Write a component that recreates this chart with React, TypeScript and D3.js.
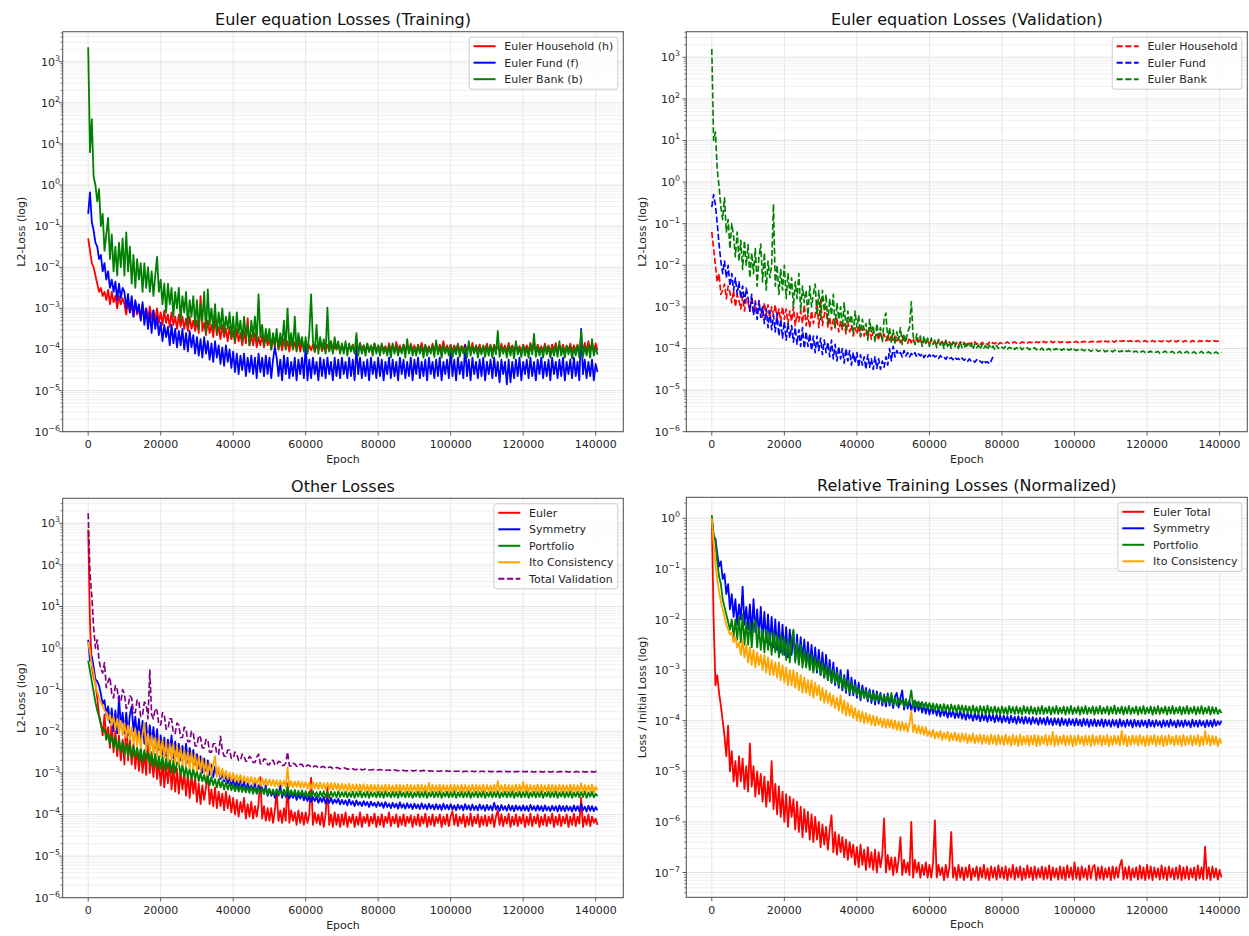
import React from 'react';
import * as d3 from 'd3';

const FONT = '"DejaVu Sans", Verdana, sans-serif';
const W = 1249;
const H = 936;

// All losses are logged every 500 epochs.
const STEP = 500;

const X_DOMAIN: [number, number] = [-7030, 147630];
const X_TICKS = [0, 20000, 40000, 60000, 80000, 100000, 120000, 140000];
const Y_EXP_MAIN = [-6, -5, -4, -3, -2, -1, 0, 1, 2, 3];
const Y_EXP_REL = [-7, -6, -5, -4, -3, -2, -1, 0];

// All loss values below are stored as log10(loss).

// ---------- Euler equation losses, training ----------
const euHouseTrain = [
  -1.3, -1.6, -1.9, -2.0, -2.2, -2.4, -2.6, -2.5, -2.7, -2.6, -2.8, -2.55, -2.9, -2.6, -2.85, -2.7, -3.0, -2.7, -2.9, -2.75,
  -2.9, -3.15, -2.8, -3.1, -2.9, -3.2, -2.85, -3.15, -3.0, -3.25, -2.9, -3.2, -3.0, -3.3, -2.95, -3.25, -3.05, -3.3, -3.0, -3.35,
  -3.1, -3.4, -3.05, -3.35, -3.15, -3.45, -3.1, -3.4, -3.2, -3.5, -3.15, -3.45, -3.2, -3.5, -3.25, -3.55, -3.2, -3.5, -3.3, -3.55,
  -3.3, -3.6, -2.7, -3.55, -3.35, -3.65, -3.3, -3.6, -3.4, -3.7, -3.2, -3.65, -3.45, -3.75, -3.4, -3.7, -3.5, -3.8, -3.45, -3.75,
  -3.55, -3.85, -3.5, -3.8, -3.6, -3.9, -3.55, -3.85, -3.24, -3.9, -3.65, -3.9, -3.6, -3.95, -3.7, -3.9, -3.65, -3.95, -3.7, -3.9,
  -3.75, -4.0, -3.7, -3.95, -3.6, -4.0, -3.78, -4.02, -3.75, -3.98, -3.8, -4.05, -3.75, -4.0, -3.82, -4.02, -3.78, -4.05, -3.8, -4.0,
  -3.85, -4.05, -3.9, -4.02, -3.88, -4.06, -3.9, -4.0, -3.85, -4.04, -3.92, -4.05, -3.88, -4.02, -3.8, -4.06, -3.9, -4.0, -3.88, -4.05,
  -3.9, -4.02, -3.86, -4.05, -3.92, -4.0, -3.88, -4.06, -3.9, -4.03, -3.84, -4.05, -3.9, -4.02, -3.88, -4.06, -3.92, -4.0, -3.86, -4.04,
  -3.9, -4.05, -3.88, -4.02, -3.92, -4.06, -3.85, -4.03, -3.9, -4.05, -3.82, -4.02, -3.9, -4.06, -3.88, -4.0, -3.92, -4.05, -3.86, -4.03,
  -3.9, -4.06, -3.88, -4.02, -3.84, -4.05, -3.9, -4.03, -3.92, -4.06, -3.86, -4.0, -3.9, -4.05, -3.88, -4.02, -3.8, -4.06, -3.9, -4.03,
  -3.88, -4.05, -3.9, -4.02, -3.86, -4.06, -3.92, -4.0, -3.88, -4.05, -3.9, -4.03, -3.84, -4.06, -3.9, -4.02, -3.88, -4.05, -3.92, -4.0,
  -3.86, -4.04, -3.9, -4.06, -3.88, -4.02, -3.92, -4.05, -3.86, -4.03, -3.9, -4.06, -3.84, -4.02, -3.9, -4.05, -3.88, -4.03, -3.92, -4.06,
  -3.88, -4.02, -3.9, -4.05, -3.84, -4.03, -3.9, -4.06, -3.88, -4.02, -3.92, -4.05, -3.86, -4.03, -3.9, -4.06, -3.88, -4.02, -3.84, -4.05,
  -3.9, -4.03, -3.88, -4.06, -3.92, -4.02, -3.86, -4.05, -3.9, -4.03, -3.88, -4.06, -3.9, -4.02, -3.84, -4.05, -3.8, -4.03, -3.86, -4.06,
  -3.85, -4.02,
];

const euFundTrain = [
  -0.7, -0.18, -0.9, -1.1, -1.4, -1.5, -1.8, -1.7, -2.1, -1.9, -2.3, -2.1, -2.5, -2.3, -2.6, -2.35, -2.8, -2.4, -2.75, -2.5,
  -2.6, -3.0, -2.65, -3.1, -2.7, -3.2, -2.8, -3.1, -2.9, -3.3, -2.85, -3.4, -3.0, -3.5, -3.1, -3.6, -3.05, -3.5, -3.2, -3.65,
  -3.35, -3.8, -3.4, -3.7, -3.45, -3.9, -3.4, -3.85, -3.5, -3.95, -3.55, -3.9, -3.5, -4.0, -3.6, -4.05, -3.55, -3.95, -3.65, -4.1,
  -3.7, -4.15, -3.75, -4.2, -3.7, -4.1, -3.8, -4.25, -3.85, -4.3, -3.8, -4.2, -3.9, -4.35, -3.95, -4.4, -3.9, -4.3, -4.0, -4.45,
  -4.05, -4.55, -4.1, -4.6, -4.15, -4.5, -4.1, -4.65, -4.2, -4.55, -4.15, -4.6, -4.2, -4.7, -4.1, -4.55, -4.2, -4.65, -4.15, -4.6,
  -4.2, -4.7, -4.25, -3.95, -4.2, -4.65, -4.25, -4.75, -4.15, -4.6, -4.2, -4.7, -4.3, -4.65, -4.2, -4.75, -4.25, -4.6, -4.2, -4.7,
  -3.9, -4.75, -4.25, -4.7, -4.2, -4.6, -4.3, -4.75, -4.2, -4.65, -4.25, -4.7, -4.2, -4.6, -4.3, -4.75, -4.2, -4.65, -4.25, -4.7,
  -4.2, -4.6, -4.3, -4.7, -4.2, -4.65, -4.25, -4.75, -3.95, -4.6, -4.2, -4.7, -4.3, -4.65, -4.25, -4.75, -4.2, -4.6, -4.3, -4.7,
  -4.2, -4.65, -4.25, -4.75, -4.3, -4.6, -4.2, -4.7, -4.25, -4.65, -4.3, -4.75, -4.2, -4.6, -4.25, -4.7, -4.3, -4.65, -4.2, -4.75,
  -4.25, -4.6, -4.2, -4.7, -4.3, -4.65, -4.25, -4.75, -4.2, -4.6, -4.3, -4.7, -4.25, -4.65, -4.2, -4.75, -4.3, -4.6, -4.25, -4.7,
  -4.0, -4.65, -4.25, -4.75, -4.2, -4.6, -4.3, -4.7, -3.9, -4.65, -4.25, -4.75, -4.2, -4.6, -4.3, -4.7, -4.25, -4.65, -4.2, -4.75,
  -4.3, -4.6, -4.25, -4.7, -4.2, -4.65, -4.3, -4.8, -4.25, -4.6, -4.3, -4.85, -4.25, -4.8, -4.3, -4.7, -4.25, -4.65, -4.2, -4.75,
  -4.3, -4.6, -4.25, -4.7, -4.2, -4.65, -4.3, -4.75, -4.25, -4.6, -4.2, -4.7, -4.3, -4.65, -4.25, -4.75, -4.2, -4.6, -4.3, -4.7,
  -4.25, -4.65, -4.2, -4.75, -4.3, -4.6, -4.25, -4.7, -4.2, -4.65, -4.3, -4.75, -3.5, -4.6, -4.25, -4.7, -4.3, -4.65, -4.25, -4.75,
  -4.35, -4.55,
];

const euBankTrain = [
  3.35, 0.8, 1.6, 0.2, 0.0, -0.4, -0.1, -1.0, -0.7, -1.6, -1.2, -0.8, -1.8, -1.2, -2.1, -1.5, -2.2, -1.4, -2.0, -1.3,
  -2.2, -1.15, -2.1, -1.5, -2.4, -1.7, -2.5, -1.8, -2.3, -1.9, -2.6, -1.9, -2.5, -2.0, -2.6, -2.1, -2.7, -2.2, -1.75, -2.6,
  -2.3, -2.9, -2.4, -3.1, -2.4, -2.9, -2.5, -3.2, -2.6, -3.0, -2.5, -3.3, -2.7, -3.1, -2.6, -3.4, -2.8, -3.2, -2.7, -3.4,
  -2.8, -3.5, -2.9, -3.3, -2.6, -3.6, -2.54, -3.4, -3.0, -3.5, -2.9, -3.6, -3.1, -3.5, -3.0, -3.6, -3.2, -3.5, -3.1, -3.7,
  -3.2, -3.8, -3.1, -3.6, -3.3, -3.8, -3.2, -3.7, -3.4, -3.9, -3.3, -3.7, -3.2, -3.8, -2.66, -3.7, -3.4, -3.9, -3.5, -3.8,
  -3.5, -4.0, -3.6, -3.9, -3.5, -4.0, -3.6, -3.9, -3.3, -4.0, -3.0, -3.9, -3.6, -4.0, -3.2, -4.05, -3.6, -3.9, -3.7, -4.05,
  -3.7, -4.1, -3.6, -2.66, -3.8, -4.05, -3.4, -4.1, -3.7, -4.0, -3.75, -4.1, -2.98, -4.05, -3.8, -4.1, -3.7, -4.0, -3.8, -4.1,
  -3.85, -4.1, -3.8, -4.15, -3.85, -4.05, -3.9, -4.1, -3.6, -4.15, -3.85, -4.1, -3.9, -4.15, -3.85, -4.05, -3.9, -4.15, -3.85, -4.1,
  -3.9, -4.15, -3.85, -4.1, -3.95, -4.15, -3.9, -4.2, -3.85, -4.1, -3.9, -4.15, -3.95, -4.1, -3.88, -4.2, -3.75, -4.1, -3.9, -4.15,
  -3.95, -4.15, -3.9, -4.1, -3.92, -4.2, -3.88, -4.15, -3.95, -4.1, -3.9, -4.18, -3.78, -4.12, -3.92, -4.2, -3.9, -4.1, -3.95, -4.15,
  -3.9, -4.2, -3.95, -4.12, -3.88, -4.18, -3.92, -4.1, -3.95, -4.2, -3.8, -4.15, -3.92, -4.1, -3.9, -4.2, -3.95, -4.12, -3.9, -4.18,
  -3.92, -4.15, -3.88, -4.2, -3.9, -4.12, -3.55, -4.18, -3.92, -4.1, -3.95, -4.2, -3.9, -4.15, -3.92, -4.22, -3.8, -4.12, -3.95, -4.18,
  -3.9, -4.15, -3.95, -4.2, -3.88, -4.12, -3.62, -4.18, -3.92, -4.15, -3.95, -4.2, -3.9, -4.12, -3.92, -4.2, -3.95, -4.15, -3.9, -4.18,
  -3.8, -4.15, -3.95, -4.2, -3.9, -4.12, -3.92, -4.22, -3.95, -4.15, -3.9, -4.2, -3.55, -4.18, -3.92, -4.15, -3.9, -4.2, -3.75, -4.15,
  -3.95, -4.12,
];

// ---------- Euler equation losses, validation ----------
const euHouseVal = [
  -1.2, -1.6, -2.0, -2.4, -2.2, -2.7, -2.6, -2.45, -2.8, -2.5, -2.65, -2.9, -2.6, -3.0, -2.7, -2.85, -3.05, -2.75, -3.1, -2.8,
  -2.9, -3.1, -2.75, -3.15, -2.85, -3.2, -2.9, -3.05, -3.25, -2.9, -3.2, -2.95, -3.3, -3.0, -3.2, -2.95, -3.3, -3.05, -3.35, -3.0,
  -3.3, -3.05, -3.4, -3.1, -3.35, -3.0, -3.45, -3.15, -3.35, -3.1, -3.4, -2.95, -3.45, -3.2, -3.5, -3.1, -3.4, -3.2, -2.9, -3.5,
  -2.8, -3.45, -3.2, -3.0, -3.5, -3.25, -3.55, -3.3, -3.5, -3.25, -3.6, -3.35, -3.55, -3.4, -3.65, -3.35, -3.6, -3.45, -3.7, -3.5,
  -3.65, -3.45, -3.72, -3.5, -3.7, -3.55, -3.75, -3.5, -3.78, -3.6, -3.75, -3.62, -3.8, -3.6, -3.78, -3.65, -3.82, -3.66, -3.8, -3.7,
  -3.84, -3.7, -3.82, -3.72, -3.86, -3.7, -3.85, -3.75, -3.88, -3.74, -3.86, -3.76, -3.9, -3.77, -3.87, -3.78, -3.9, -3.79, -3.88, -3.8,
  -3.91, -3.8, -3.89, -3.82, -3.92, -3.81, -3.9, -3.83, -3.92, -3.82, -3.9, -3.84, -3.91, -3.83, -3.9, -3.85, -3.92, -3.84, -3.9, -3.85,
  -3.91, -3.85, -3.89, -3.86, -3.91, -3.84, -3.9, -3.86, -3.9, -3.85, -3.89, -3.86, -3.91, -3.85, -3.9, -3.86, -3.89, -3.84, -3.9, -3.86,
  -3.88, -3.85, -3.87, -3.84, -3.88, -3.85, -3.86, -3.84, -3.87, -3.85, -3.88, -3.84, -3.86, -3.85, -3.87, -3.84, -3.86, -3.85, -3.87, -3.84,
  -3.86, -3.84, -3.87, -3.83, -3.86, -3.84, -3.85, -3.83, -3.86, -3.84, -3.85, -3.83, -3.86, -3.84, -3.85, -3.83, -3.86, -3.84, -3.85, -3.83,
  -3.85, -3.83, -3.86, -3.82, -3.85, -3.83, -3.84, -3.82, -3.85, -3.83, -3.84, -3.82, -3.85, -3.83, -3.84, -3.82, -3.85, -3.82, -3.84, -3.83,
  -3.84, -3.82, -3.85, -3.81, -3.84, -3.82, -3.83, -3.81, -3.84, -3.82, -3.83, -3.81, -3.84, -3.82, -3.83, -3.81, -3.84, -3.82, -3.83, -3.81,
  -3.84, -3.82, -3.83, -3.81, -3.84, -3.81, -3.83, -3.82, -3.84, -3.81, -3.83, -3.82, -3.84, -3.81, -3.83, -3.82, -3.84, -3.81, -3.83, -3.82,
  -3.84, -3.81, -3.83, -3.82, -3.84, -3.81, -3.83, -3.82, -3.84, -3.81, -3.83, -3.82, -3.84, -3.81, -3.83, -3.82, -3.84, -3.81, -3.83, -3.82,
  -3.83, -3.82,
];

const euFundVal = [
  -0.6, -0.3, -0.55, -1.0, -1.5, -1.9, -2.2, -1.9, -2.3, -2.0, -2.5, -2.2, -2.6, -2.3, -2.7, -2.4, -2.8, -2.5, -2.9, -2.55,
  -2.8, -3.1, -2.7, -3.2, -2.9, -3.3, -2.85, -3.25, -3.0, -3.4, -3.05, -3.5, -3.1, -3.55, -3.2, -3.6, -3.15, -3.7, -3.3, -3.75,
  -3.35, -3.8, -3.4, -3.75, -3.45, -3.85, -3.5, -3.9, -3.55, -3.95, -3.5, -4.0, -3.6, -3.95, -3.65, -4.05, -3.7, -4.1, -3.7, -4.05,
  -3.75, -4.15, -3.8, -4.1, -3.85, -4.2, -3.8, -4.25, -3.9, -4.3, -3.95, -4.25, -4.0, -4.35, -4.0, -4.3, -4.05, -4.4, -4.1, -4.35,
  -4.1, -4.45, -4.15, -4.4, -4.2, -4.5, -4.15, -4.45, -4.25, -4.5, -4.2, -4.48, -4.25, -4.5, -4.3, -4.45, -4.2, -4.4, -4.0, -4.3,
  -3.95, -4.2, -4.05, -4.15, -4.1, -4.2, -4.05, -4.18, -4.1, -4.2, -4.12, -4.17, -4.1, -4.2, -4.13, -4.18, -4.12, -4.22, -4.14, -4.2,
  -4.15, -4.22, -4.16, -4.2, -4.18, -4.24, -4.17, -4.22, -4.2, -4.26, -4.19, -4.24, -4.22, -4.27, -4.21, -4.26, -4.24, -4.29, -4.23, -4.28,
  -4.26, -4.31, -4.25, -4.3, -4.28, -4.33, -4.27, -4.32, -4.3, -4.35, -4.28, -4.34, -4.32, -4.37, -4.3, -4.2,
];

const euBankVal = [
  3.2, 1.0, 1.2, 0.3, -0.1, -0.6, -0.9, -0.38, -1.2, -0.9, -1.6, -1.0, -1.3, -1.8, -1.2, -1.9, -1.4, -2.1, -1.41, -2.0,
  -1.5, -2.3, -1.7, -2.2, -1.6, -2.5, -1.8, -1.49, -2.4, -1.7, -2.6, -1.9, -2.3, -2.0, -0.53, -2.5, -2.0, -2.7, -2.1, -2.6,
  -2.0, -2.8, -2.2, -2.7, -2.3, -3.0, -2.4, -2.8, -2.2, -3.1, -2.5, -2.9, -2.6, -3.2, -2.5, -3.0, -2.7, -2.45, -3.2, -2.6,
  -3.3, -2.6, -3.1, -2.7, -3.4, -2.8, -3.2, -2.7, -3.5, -2.9, -3.3, -3.0, -3.5, -2.9, -3.6, -3.1, -3.4, -3.2, -3.65, -3.1,
  -3.5, -3.2, -3.7, -3.3, -3.55, -3.4, -3.8, -3.3, -3.6, -3.45, -3.85, -3.4, -3.7, -3.5, -3.85, -3.3, -3.15, -3.8, -3.5, -3.85,
  -3.55, -3.9, -3.6, -3.8, -3.5, -3.9, -3.65, -3.85, -3.6, -3.5, -2.88, -3.7, -3.9, -3.65, -3.85, -3.7, -3.95, -3.7, -3.9, -3.75,
  -3.95, -3.75, -3.9, -3.8, -3.98, -3.78, -3.92, -3.82, -4.0, -3.8, -3.95, -3.85, -4.0, -3.84, -3.96, -3.86, -4.0, -3.85, -3.98, -3.88,
  -4.0, -3.88, -3.97, -3.9, -4.02, -3.89, -3.98, -3.92, -4.02, -3.9, -3.99, -3.93, -4.03, -3.92, -4.0, -3.94, -4.02, -3.93, -4.0, -3.95,
  -3.97, -4.0, -3.95, -4.01, -3.97, -4.0, -3.96, -4.02, -3.98, -4.01, -3.97, -4.03, -3.99, -4.01, -3.98, -4.03, -4.0, -4.02, -3.98, -4.03,
  -4.0, -4.03, -3.99, -4.04, -4.01, -4.03, -4.0, -4.05, -4.01, -4.03, -4.0, -4.05, -4.02, -4.04, -4.01, -4.05, -4.02, -4.04, -4.01, -4.06,
  -4.02, -4.05, -4.03, -4.06, -4.02, -4.05, -4.04, -4.06, -4.03, -4.07, -4.04, -4.05, -4.03, -4.07, -4.05, -4.06, -4.04, -4.08, -4.05, -4.06,
  -4.05, -4.08, -4.04, -4.07, -4.06, -4.08, -4.05, -4.09, -4.06, -4.07, -4.05, -4.09, -4.07, -4.08, -4.06, -4.1, -4.07, -4.08, -4.06, -4.1,
  -4.07, -4.09, -4.06, -4.1, -4.08, -4.09, -4.07, -4.11, -4.08, -4.09, -4.06, -4.1, -4.08, -4.09, -4.07, -4.11, -4.08, -4.1, -4.07, -4.11,
  -4.08, -4.1, -4.07, -4.11, -4.09, -4.1, -4.08, -4.12, -4.09, -4.1, -4.07, -4.11, -4.09, -4.1, -4.08, -4.12, -4.09, -4.11, -4.08, -4.12,
  -4.09, -4.1,
];

// ---------- Other losses (absolute) ----------
const eulerLoss = [
  2.85, 0.6, -0.45, -0.7, -0.85, -1.2, -1.6, -1.8, -2.1, -1.6, -2.2, -1.9, -2.4, -1.75, -2.5, -2.0, -2.6, -2.1, -2.7, -2.2,
  -2.8, -1.65, -2.7, -2.2, -2.8, -2.3, -2.9, -2.4, -2.95, -2.45, -3.0, -2.5, -3.05, -2.05, -3.0, -2.6, -3.1, -2.55, -3.15, -2.7,
  -3.3, -2.75, -3.35, -2.8, -3.25, -2.7, -3.4, -2.85, -3.45, -2.9, -3.5, -2.95, -3.4, -3.0, -3.55, -3.0, -3.6, -3.05, -3.5, -3.1,
  -3.7, -3.25, -3.75, -3.3, -3.65, -3.35, -3.0, -3.75, -3.4, -3.8, -3.35, -3.85, -3.45, -3.8, -3.5, -3.9, -3.45, -3.85, -3.55, -3.95,
  -3.6, -4.0, -3.65, -4.05, -3.7, -3.95, -3.6, -4.1, -3.75, -4.05, -3.7, -4.1, -3.8, -4.05, -3.75, -3.1, -4.1, -3.8, -4.15, -3.85,
  -4.15, -3.85, -4.2, -3.9, -3.45, -4.15, -3.9, -4.2, -3.85, -4.15, -3.25, -4.2, -3.9, -4.15, -3.95, -4.25, -3.9, -4.2, -3.95, -4.25,
  -3.95, -4.2, -4.0, -3.12, -4.25, -3.95, -4.2, -4.0, -4.25, -3.95, -4.3, -4.0, -3.35, -4.25, -4.0, -4.3, -3.95, -4.25, -4.0, -4.3,
  -4.0, -4.25, -3.95, -4.3, -4.05, -4.2, -4.0, -4.3, -4.05, -4.25, -3.95, -4.3, -4.05, -4.2, -4.0, -4.28, -4.05, -4.22, -3.98, -4.3,
  -4.05, -4.25, -4.0, -4.3, -4.05, -4.2, -3.95, -4.28, -4.05, -4.22, -4.0, -4.3, -4.05, -4.25, -4.0, -4.28, -4.05, -4.2, -4.02, -4.3,
  -4.05, -4.25, -4.0, -4.28, -4.05, -4.22, -3.98, -4.3, -4.05, -4.25, -4.0, -4.28, -4.06, -4.2, -4.0, -4.3, -4.05, -4.24, -4.0, -4.28,
  -4.05, -3.92, -4.25, -4.0, -4.28, -4.05, -4.22, -4.0, -4.3, -4.05, -4.25, -3.98, -4.28, -4.05, -4.22, -4.0, -4.3, -4.05, -4.25, -4.02,
  -4.28, -4.05, -4.22, -4.0, -4.3, -4.05, -3.9, -4.25, -4.0, -4.28, -4.05, -4.22, -3.98, -4.3, -4.05, -4.25, -4.0, -4.28, -4.05, -4.22,
  -4.0, -4.3, -4.05, -4.25, -3.98, -4.28, -4.05, -4.22, -4.0, -4.3, -4.05, -4.25, -4.0, -4.28, -4.05, -4.22, -3.98, -4.3, -4.05, -4.25,
  -4.0, -4.28, -4.05, -4.22, -4.0, -4.3, -4.05, -4.25, -3.98, -4.28, -4.05, -4.22, -3.6, -4.3, -4.05, -4.25, -4.0, -4.28, -4.05, -4.2,
  -4.1, -4.25,
];

const symmetryLoss = [
  0.2, -0.3, -0.2, -0.45, -0.75, -0.8, -0.9, -1.1, -1.35, -1.25, -1.6, -1.4, -1.8, -1.45, -2.0, -1.5, -2.05, -1.15, -1.9, -1.55,
  -2.05, -1.55, -2.1, -1.6, -1.4, -2.0, -1.65, -2.15, -1.7, -2.2, -1.75, -2.3, -1.8, -2.35, -1.85, -2.3, -1.9, -2.4, -1.95, -2.45,
  -2.1, -2.55, -2.15, -2.6, -2.2, -2.5, -2.1, -2.65, -2.25, -2.6, -2.3, -2.7, -2.35, -2.65, -2.3, -2.75, -2.4, -2.7, -2.45, -2.8,
  -2.55, -2.9, -2.6, -3.0, -2.65, -2.95, -2.7, -3.05, -2.8, -3.1, -2.85, -3.05, -2.9, -3.15, -3.0, -3.2, -3.05, -3.25, -3.1, -3.3,
  -3.15, -3.35, -3.2, -3.4, -3.1, -3.35, -3.2, -3.45, -3.25, -3.4, -3.3, -3.45, -3.25, -3.5, -3.3, -3.45, -3.35, -3.5, -3.3, -3.55,
  -3.4, -3.55, -3.45, -3.6, -3.42, -3.55, -3.3, -3.6, -3.45, -3.58, -3.48, -3.62, -3.5, -3.6, -3.48, -3.65, -3.52, -3.62, -3.5, -3.66,
  -3.55, -3.68, -3.56, -3.7, -3.58, -3.68, -3.57, -3.72, -3.6, -3.7, -3.58, -3.74, -3.62, -3.72, -3.6, -3.74, -3.64, -3.72, -3.62, -3.76,
  -3.65, -3.75, -3.66, -3.78, -3.64, -3.76, -3.68, -3.8, -3.66, -3.77, -3.7, -3.8, -3.68, -3.78, -3.7, -3.82, -3.69, -3.79, -3.72, -3.82,
  -3.7, -3.8, -3.72, -3.84, -3.7, -3.82, -3.74, -3.85, -3.72, -3.83, -3.74, -3.86, -3.71, -3.84, -3.75, -3.86, -3.73, -3.84, -3.75, -3.87,
  -3.74, -3.85, -3.76, -3.87, -3.73, -3.86, -3.76, -3.88, -3.74, -3.86, -3.77, -3.88, -3.75, -3.87, -3.77, -3.89, -3.74, -3.87, -3.77, -3.88,
  -3.75, -3.88, -3.78, -3.9, -3.76, -3.87, -3.78, -3.9, -3.75, -3.88, -3.78, -3.9, -3.76, -3.89, -3.79, -3.9, -3.76, -3.88, -3.78, -3.91,
  -3.77, -3.89, -3.79, -3.9, -3.72, -3.88, -3.79, -3.91, -3.77, -3.89, -3.8, -3.91, -3.77, -3.9, -3.79, -3.92, -3.78, -3.89, -3.8, -3.91,
  -3.78, -3.9, -3.8, -3.92, -3.77, -3.89, -3.8, -3.91, -3.78, -3.9, -3.8, -3.92, -3.78, -3.9, -3.81, -3.92, -3.79, -3.9, -3.8, -3.93,
  -3.78, -3.91, -3.8, -3.92, -3.79, -3.9, -3.81, -3.93, -3.78, -3.91, -3.8, -3.92, -3.75, -3.9, -3.81, -3.93, -3.79, -3.91, -3.8, -3.92,
  -3.82, -3.9,
];

const portfolioLoss = [
  -0.3, -0.55, -0.8, -1.05, -1.3, -1.5, -1.65, -1.85, -2.0, -1.95, -2.2, -2.05, -2.3, -2.1, -2.4, -2.15, -2.45, -2.2, -2.5, -2.25,
  -2.55, -2.3, -2.6, -2.3, -2.65, -2.35, -2.6, -2.4, -2.7, -2.4, -2.75, -2.45, -2.7, -2.5, -2.8, -2.5, -2.85, -2.55, -2.9, -2.6,
  -2.9, -2.6, -2.95, -2.65, -2.9, -2.7, -3.0, -2.7, -3.0, -2.75, -2.78, -3.05, -2.8, -3.1, -2.85, -3.1, -2.9, -3.15, -2.9, -3.15,
  -2.95, -3.2, -3.0, -3.2, -3.05, -3.25, -3.05, -3.3, -3.1, -3.3, -3.15, -3.35, -3.15, -3.35, -3.2, -3.4, -3.22, -3.4, -3.25, -3.42,
  -3.28, -3.44, -3.3, -3.45, -3.31, -3.46, -3.32, -3.47, -3.34, -3.48, -3.33, -3.5, -3.35, -3.49, -3.36, -3.5, -3.37, -3.51, -3.36, -3.52,
  -3.38, -3.52, -3.4, -3.53, -3.39, -3.54, -3.41, -3.53, -3.4, -3.55, -3.3, -3.54, -3.42, -3.55, -3.41, -3.56, -3.43, -3.55, -3.42, -3.57,
  -3.44, -3.57, -3.45, -3.58, -3.44, -3.56, -3.46, -3.59, -3.45, -3.57, -3.44, -3.58, -3.46, -3.6, -3.45, -3.57, -3.46, -3.59, -3.44, -3.58,
  -3.46, -3.57, -3.45, -3.59, -3.47, -3.58, -3.45, -3.6, -3.46, -3.57, -3.44, -3.59, -3.47, -3.58, -3.45, -3.6, -3.46, -3.57, -3.47, -3.59,
  -3.45, -3.58, -3.46, -3.6, -3.44, -3.57, -3.47, -3.59, -3.45, -3.58, -3.46, -3.6, -3.44, -3.57, -3.47, -3.59, -3.45, -3.58, -3.46, -3.6,
  -3.47, -3.57, -3.45, -3.59, -3.46, -3.58, -3.44, -3.6, -3.47, -3.57, -3.45, -3.59, -3.46, -3.58, -3.44, -3.6, -3.47, -3.57, -3.45, -3.59,
  -3.46, -3.58, -3.44, -3.6, -3.47, -3.57, -3.45, -3.59, -3.46, -3.58, -3.44, -3.6, -3.47, -3.57, -3.45, -3.59, -3.46, -3.58, -3.44, -3.6,
  -3.47, -3.57, -3.45, -3.59, -3.46, -3.58, -3.44, -3.6, -3.47, -3.57, -3.45, -3.59, -3.46, -3.58, -3.44, -3.6, -3.47, -3.57, -3.45, -3.59,
  -3.46, -3.58, -3.44, -3.6, -3.47, -3.57, -3.45, -3.59, -3.46, -3.58, -3.44, -3.6, -3.47, -3.57, -3.45, -3.59, -3.46, -3.58, -3.44, -3.6,
  -3.47, -3.57, -3.45, -3.59, -3.46, -3.58, -3.44, -3.6, -3.47, -3.57, -3.45, -3.59, -3.46, -3.58, -3.44, -3.6, -3.47, -3.57, -3.45, -3.59,
  -3.5, -3.56,
];

const itoLoss = [
  0.15, -0.1, -0.4, -0.6, -0.9, -1.05, -1.2, -1.3, -1.4, -1.5, -1.55, -1.75, -1.6, -1.85, -1.65, -1.95, -1.7, -2.05, -1.75, -2.1,
  -1.8, -2.15, -1.85, -2.2, -1.9, -2.3, -1.95, -2.35, -2.0, -2.4, -2.05, -1.8, -2.45, -2.05, -2.5, -2.1, -2.55, -2.15, -2.6, -2.15,
  -2.6, -2.2, -2.65, -2.25, -2.7, -2.3, -2.7, -2.3, -2.75, -2.35, -2.8, -2.4, -2.8, -2.45, -2.85, -2.5, -2.9, -2.5, -2.9, -2.55,
  -2.95, -2.6, -2.95, -2.65, -3.0, -2.7, -3.05, -2.75, -3.05, -2.8, -2.6, -3.1, -2.85, -3.1, -2.9, -3.15, -2.95, -3.15, -3.0, -3.2,
  -3.0, -3.2, -3.05, -3.22, -3.05, -3.25, -3.08, -3.24, -3.1, -3.26, -3.1, -3.28, -3.12, -3.27, -3.12, -3.3, -3.14, -3.29, -3.15, -3.3,
  -3.16, -3.31, -3.17, -3.32, -3.18, -3.33, -3.18, -3.32, -3.19, -3.34, -2.87, -3.33, -3.2, -3.35, -3.21, -3.34, -3.2, -3.36, -3.22, -3.35,
  -3.22, -3.37, -3.23, -3.38, -3.22, -3.37, -3.24, -3.39, -3.23, -3.38, -3.25, -3.4, -3.24, -3.39, -3.25, -3.41, -3.24, -3.4, -3.26, -3.42,
  -3.26, -3.42, -3.27, -3.43, -3.26, -3.44, -3.28, -3.43, -3.27, -3.45, -3.28, -3.44, -3.27, -3.45, -3.29, -3.46, -3.28, -3.44, -3.29, -3.46,
  -3.28, -3.46, -3.3, -3.45, -3.28, -3.47, -3.29, -3.45, -3.3, -3.46, -3.28, -3.47, -3.29, -3.45, -3.3, -3.46, -3.28, -3.47, -3.29, -3.45,
  -3.3, -3.46, -3.28, -3.47, -3.29, -3.45, -3.3, -3.46, -3.24, -3.47, -3.29, -3.45, -3.3, -3.46, -3.28, -3.47, -3.29, -3.45, -3.3, -3.46,
  -3.28, -3.47, -3.29, -3.45, -3.3, -3.46, -3.28, -3.47, -3.29, -3.45, -3.3, -3.46, -3.28, -3.47, -3.29, -3.45, -3.3, -3.46, -3.28, -3.47,
  -3.29, -3.45, -3.3, -3.46, -3.28, -3.47, -3.2, -3.45, -3.3, -3.46, -3.28, -3.47, -3.29, -3.45, -3.3, -3.46, -3.28, -3.47, -3.29, -3.45,
  -3.22, -3.46, -3.28, -3.47, -3.29, -3.45, -3.3, -3.46, -3.28, -3.47, -3.29, -3.45, -3.3, -3.46, -3.28, -3.47, -3.29, -3.45, -3.3, -3.46,
  -3.28, -3.47, -3.29, -3.45, -3.3, -3.46, -3.28, -3.47, -3.29, -3.45, -3.3, -3.46, -3.25, -3.47, -3.29, -3.45, -3.3, -3.46, -3.28, -3.47,
  -3.33, -3.42,
];

const totalVal = [
  3.24, 1.8, 1.25, 0.5, 0.0, 0.2, -0.3, -0.5, -0.6, -0.35, -0.95, -0.8, -0.7, -1.1, -1.2, -0.9, -1.0, -1.3, -1.3, -1.0,
  -1.1, -1.45, -1.4, -1.15, -1.2, -1.55, -1.55, -1.25, -1.3, -1.65, -1.6, -1.3, -1.35, -1.7, -0.53, -1.6, -1.7, -1.45, -1.5, -1.85,
  -1.85, -1.55, -1.6, -1.95, -1.95, -1.7, -1.7, -2.05, -2.05, -1.8, -1.85, -2.15, -2.15, -1.9, -1.95, -2.25, -2.25, -2.0, -2.05, -2.35,
  -2.35, -2.1, -2.15, -2.4, -2.4, -2.2, -2.2, -2.5, -2.5, -2.3, -2.3, -2.55, -2.55, -2.12, -2.45, -2.6, -2.6, -2.45, -2.45, -2.65,
  -2.65, -2.5, -2.55, -2.7, -2.7, -2.55, -2.6, -2.72, -2.72, -2.6, -2.65, -2.75, -2.75, -2.62, -2.55, -2.78, -2.78, -2.66, -2.68, -2.8,
  -2.8, -2.7, -2.7, -2.8, -2.81, -2.72, -2.74, -2.82, -2.82, -2.76, -2.5, -2.83, -2.83, -2.77, -2.78, -2.84, -2.85, -2.79, -2.8, -2.86,
  -2.86, -2.81, -2.82, -2.87, -2.87, -2.83, -2.84, -2.88, -2.88, -2.85, -2.85, -2.89, -2.89, -2.86, -2.86, -2.9, -2.9, -2.87, -2.88, -2.9,
  -2.9, -2.88, -2.89, -2.91, -2.91, -2.89, -2.9, -2.92, -2.92, -2.9, -2.9, -2.93, -2.92, -2.91, -2.91, -2.93, -2.93, -2.92, -2.92, -2.94,
  -2.93, -2.92, -2.93, -2.94, -2.94, -2.93, -2.93, -2.94, -2.95, -2.93, -2.94, -2.95, -2.94, -2.94, -2.94, -2.95, -2.95, -2.94, -2.94, -2.95,
  -2.95, -2.94, -2.95, -2.95, -2.95, -2.94, -2.95, -2.96, -2.95, -2.95, -2.96, -2.95, -2.95, -2.96, -2.96, -2.95, -2.96, -2.96, -2.95, -2.96,
  -2.96, -2.95, -2.96, -2.96, -2.96, -2.95, -2.96, -2.97, -2.96, -2.96, -2.97, -2.96, -2.96, -2.97, -2.96, -2.96, -2.97, -2.96, -2.96, -2.97,
  -2.97, -2.96, -2.97, -2.97, -2.96, -2.97, -2.97, -2.96, -2.97, -2.97, -2.96, -2.97, -2.97, -2.97, -2.96, -2.97, -2.97, -2.97, -2.96, -2.97,
  -2.97, -2.97, -2.97, -2.96, -2.97, -2.97, -2.98, -2.97, -2.97, -2.97, -2.97, -2.98, -2.97, -2.97, -2.97, -2.98, -2.97, -2.97, -2.97, -2.98,
  -2.97, -2.97, -2.98, -2.97, -2.97, -2.98, -2.97, -2.97, -2.98, -2.97, -2.97, -2.98, -2.97, -2.97, -2.98, -2.97, -2.98, -2.97, -2.97, -2.98,
  -2.97, -2.97,
];

// ---------- Relative training losses (loss / initial loss) ----------
const relEuler = [
  0.0, -2.0, -3.3, -3.1, -3.45, -3.7, -4.0, -4.3, -4.7, -4.1, -5.0, -4.6, -5.2, -4.8, -5.3, -4.7, -5.2, -4.75, -5.35, -4.9,
  -5.4, -4.45, -5.3, -4.9, -5.5, -5.0, -5.45, -5.05, -5.6, -5.1, -5.7, -5.2, -5.6, -4.8, -5.75, -5.25, -5.85, -5.3, -5.9, -5.4,
  -6.0, -5.45, -6.1, -5.5, -5.9, -5.55, -6.15, -5.6, -6.2, -5.7, -6.3, -5.75, -6.2, -5.8, -6.35, -5.85, -6.4, -5.9, -6.35, -6.0,
  -6.5, -6.05, -6.45, -6.1, -6.55, -6.15, -5.87, -6.6, -6.2, -6.65, -6.25, -6.6, -6.3, -6.7, -6.35, -6.75, -6.4, -6.7, -6.45, -6.85,
  -6.5, -6.9, -6.45, -6.85, -6.55, -6.95, -6.5, -6.9, -6.6, -6.95, -6.55, -7.0, -6.6, -6.9, -6.65, -5.93, -7.0, -6.65, -6.95, -6.7,
  -7.05, -6.7, -7.0, -6.75, -6.3, -7.05, -6.75, -7.0, -6.8, -7.05, -6.0, -7.1, -6.75, -7.0, -6.8, -7.1, -6.85, -7.05, -6.8, -7.1,
  -6.85, -7.1, -6.8, -5.97, -7.1, -6.85, -7.05, -6.9, -7.15, -6.85, -7.1, -6.9, -6.2, -7.1, -6.9, -7.15, -6.85, -7.1, -6.9, -7.15,
  -6.9, -7.1, -6.85, -7.15, -6.92, -7.08, -6.88, -7.15, -6.9, -7.1, -6.85, -7.12, -6.92, -7.15, -6.88, -7.1, -6.9, -7.14, -6.86, -7.1,
  -6.9, -7.12, -6.88, -7.15, -6.92, -7.1, -6.85, -7.14, -6.9, -7.1, -6.88, -7.15, -6.92, -7.12, -6.86, -7.1, -6.9, -7.15, -6.88, -7.12,
  -6.92, -7.1, -6.88, -7.14, -6.9, -7.12, -6.86, -7.15, -6.9, -7.1, -6.92, -7.14, -6.88, -7.12, -6.9, -7.15, -6.86, -7.1, -6.9, -7.14,
  -6.8, -7.12, -6.9, -7.15, -6.88, -7.1, -6.92, -7.14, -6.86, -7.12, -6.9, -6.85, -7.15, -6.9, -7.12, -6.88, -7.14, -6.92, -7.1, -6.9,
  -7.15, -6.88, -7.12, -6.9, -7.1, -6.86, -6.75, -7.14, -6.9, -7.12, -6.88, -7.15, -6.92, -7.1, -6.9, -7.14, -6.86, -7.12, -6.9, -7.15,
  -6.85, -7.12, -6.88, -7.15, -6.9, -7.1, -6.92, -7.14, -6.86, -7.12, -6.9, -7.15, -6.88, -7.1, -6.92, -7.14, -6.9, -7.12, -6.86, -7.15,
  -6.9, -7.12, -6.88, -7.14, -6.92, -7.1, -6.9, -7.15, -6.86, -7.12, -6.9, -7.14, -6.49, -7.12, -6.9, -7.15, -6.88, -7.1, -6.92, -7.14,
  -6.95, -7.1,
];

const relSymmetry = [
  0.0, -0.36, -0.4, -0.7, -0.95, -0.85, -1.2, -1.1, -1.5, -1.3, -1.8, -1.5, -1.95, -1.6, -2.1, -1.7, -2.0, -1.35, -2.1, -1.75,
  -2.2, -1.7, -2.3, -1.6, -2.25, -1.8, -2.35, -1.75, -2.4, -1.85, -2.45, -1.9, -2.5, -1.95, -2.55, -2.0, -2.6, -2.05, -2.65, -2.1,
  -2.7, -2.15, -2.75, -2.2, -2.7, -2.25, -2.8, -2.3, -2.85, -2.35, -2.8, -2.4, -2.9, -2.45, -2.95, -2.5, -3.0, -2.55, -3.05, -2.6,
  -3.1, -2.65, -3.15, -2.7, -3.2, -2.8, -3.25, -2.85, -3.3, -2.95, -3.35, -3.0, -3.4, -3.1, -3.45, -3.0, -3.5, -3.15, -3.5, -3.2,
  -3.55, -3.25, -3.6, -3.3, -3.55, -3.35, -3.62, -3.38, -3.65, -3.4, -3.68, -3.42, -3.66, -3.45, -3.7, -3.48, -3.72, -3.46, -3.7, -3.5,
  -3.75, -3.52, -3.45, -3.74, -3.55, -3.4, -3.78, -3.58, -3.76, -3.6, -3.8, -3.62, -3.82, -3.64, -3.8, -3.66, -3.84, -3.68, -3.86, -3.7,
  -3.88, -3.72, -3.86, -3.74, -3.9, -3.75, -3.92, -3.76, -3.9, -3.78, -3.94, -3.8, -3.92, -3.79, -3.95, -3.82, -3.94, -3.8, -3.96, -3.83,
  -3.98, -3.84, -3.96, -3.86, -4.0, -3.85, -3.98, -3.87, -4.01, -3.86, -3.99, -3.88, -4.02, -3.87, -4.0, -3.89, -4.03, -3.88, -4.01, -3.9,
  -4.04, -3.9, -4.02, -3.91, -4.05, -3.9, -4.03, -3.92, -4.06, -3.91, -4.04, -3.93, -4.06, -3.92, -4.05, -3.94, -4.07, -3.93, -4.05, -3.95,
  -4.08, -3.94, -4.06, -3.95, -4.08, -3.93, -4.07, -3.96, -4.09, -3.95, -4.07, -3.96, -4.1, -3.95, -4.08, -3.97, -4.1, -3.96, -4.08, -3.97,
  -4.1, -3.96, -4.09, -3.98, -4.11, -3.96, -4.09, -3.97, -4.12, -3.98, -4.1, -3.97, -4.11, -3.99, -4.1, -3.97, -4.12, -3.98, -4.1, -3.99,
  -4.12, -3.98, -4.1, -3.99, -4.13, -3.97, -4.11, -4.0, -4.12, -3.98, -4.1, -3.99, -4.13, -3.98, -4.11, -4.0, -4.12, -3.99, -4.1, -4.0,
  -4.13, -3.98, -4.11, -4.0, -4.12, -3.99, -4.1, -4.01, -4.13, -3.99, -4.11, -4.0, -4.12, -3.98, -4.1, -4.01, -4.13, -3.99, -4.11, -4.0,
  -4.12, -3.99, -4.1, -4.01, -4.13, -3.98, -4.11, -4.0, -4.12, -3.99, -4.1, -4.01, -4.13, -3.99, -4.11, -4.0, -4.12, -3.98, -4.1, -4.01,
  -4.08, -4.0,
];

const relPortfolio = [
  0.06, -0.33, -0.45, -0.85, -1.15, -1.3, -1.6, -1.75, -1.9, -2.05, -2.2, -2.0, -2.35, -2.0, -2.4, -1.95, -2.45, -1.9, -2.5, -2.05,
  -2.5, -2.05, -2.55, -2.1, -2.0, -2.55, -2.15, -2.6, -2.2, -2.65, -2.2, -2.6, -2.25, -2.7, -2.25, -2.65, -2.3, -2.75, -2.3, -2.7,
  -2.35, -2.8, -2.4, -2.85, -2.4, -2.2, -2.85, -2.45, -2.9, -2.5, -2.95, -2.6, -2.95, -2.65, -3.0, -2.7, -3.05, -2.75, -3.0, -2.8,
  -3.1, -2.85, -3.15, -2.9, -3.2, -2.95, -3.25, -3.0, -3.25, -3.05, -3.3, -3.1, -3.35, -3.15, -3.4, -3.2, -3.45, -3.25, -3.45, -3.3,
  -3.5, -3.35, -3.55, -3.38, -3.55, -3.4, -3.58, -3.42, -3.6, -3.45, -3.62, -3.46, -3.6, -3.48, -3.65, -3.5, -3.64, -3.5, -3.66, -3.45,
  -3.68, -3.55, -3.7, -3.56, -3.68, -3.58, -3.72, -3.57, -3.7, -3.6, -3.4, -3.72, -3.6, -3.74, -3.62, -3.75, -3.63, -3.74, -3.64, -3.76,
  -3.65, -3.78, -3.66, -3.8, -3.67, -3.78, -3.68, -3.82, -3.67, -3.8, -3.69, -3.83, -3.68, -3.81, -3.7, -3.84, -3.69, -3.82, -3.7, -3.85,
  -3.71, -3.84, -3.72, -3.86, -3.7, -3.85, -3.73, -3.87, -3.71, -3.85, -3.72, -3.88, -3.7, -3.86, -3.73, -3.87, -3.72, -3.85, -3.74, -3.88,
  -3.72, -3.86, -3.74, -3.88, -3.71, -3.85, -3.73, -3.87, -3.72, -3.86, -3.74, -3.88, -3.71, -3.85, -3.73, -3.87, -3.72, -3.86, -3.74, -3.88,
  -3.73, -3.86, -3.71, -3.87, -3.74, -3.85, -3.72, -3.88, -3.73, -3.86, -3.71, -3.87, -3.74, -3.85, -3.72, -3.88, -3.73, -3.86, -3.71, -3.87,
  -3.74, -3.85, -3.72, -3.88, -3.73, -3.86, -3.71, -3.87, -3.74, -3.85, -3.72, -3.88, -3.73, -3.86, -3.71, -3.87, -3.74, -3.85, -3.72, -3.88,
  -3.73, -3.86, -3.7, -3.87, -3.74, -3.85, -3.72, -3.88, -3.73, -3.86, -3.71, -3.87, -3.74, -3.85, -3.72, -3.88, -3.73, -3.86, -3.71, -3.87,
  -3.74, -3.85, -3.72, -3.88, -3.73, -3.86, -3.71, -3.87, -3.74, -3.85, -3.72, -3.88, -3.73, -3.86, -3.71, -3.87, -3.74, -3.85, -3.72, -3.88,
  -3.73, -3.86, -3.71, -3.87, -3.74, -3.85, -3.72, -3.88, -3.73, -3.86, -3.71, -3.87, -3.74, -3.85, -3.72, -3.88, -3.73, -3.86, -3.74, -3.87,
  -3.78, -3.85,
];

const relIto = [
  0.0, -0.5, -0.9, -1.2, -1.45, -1.65, -1.8, -1.95, -2.1, -2.2, -2.3, -2.25, -2.45, -2.35, -2.55, -2.45, -2.7, -2.4, -2.75, -2.5,
  -2.85, -2.55, -2.9, -2.6, -2.95, -2.65, -2.9, -2.7, -3.0, -2.7, -3.05, -2.75, -3.1, -2.8, -3.1, -2.85, -3.15, -2.85, -3.2, -2.9,
  -3.25, -2.95, -3.3, -3.0, -3.3, -3.0, -3.35, -3.05, -3.4, -3.1, -3.45, -3.15, -3.45, -3.2, -3.5, -3.2, -3.55, -3.25, -3.5, -3.3,
  -3.6, -3.35, -3.65, -3.4, -3.65, -3.45, -3.7, -3.5, -3.75, -3.55, -3.8, -3.5, -3.85, -3.6, -3.9, -3.65, -3.9, -3.7, -3.95, -3.75,
  -4.0, -3.8, -4.02, -3.82, -4.05, -3.85, -4.04, -3.88, -4.08, -3.9, -4.1, -3.92, -4.08, -3.95, -4.12, -3.96, -4.14, -3.97, -4.13, -3.98,
  -4.16, -4.0, -4.18, -4.02, -4.2, -4.03, -4.19, -4.05, -4.22, -4.06, -3.8, -4.22, -4.08, -4.25, -4.1, -4.26, -4.12, -4.28, -4.13, -4.3,
  -4.2, -4.32, -4.18, -4.35, -4.22, -4.34, -4.2, -4.38, -4.24, -4.36, -4.22, -4.4, -4.25, -4.38, -4.23, -4.4, -4.26, -4.42, -4.25, -4.4,
  -4.26, -4.44, -4.28, -4.42, -4.25, -4.45, -4.29, -4.43, -4.27, -4.46, -4.28, -4.44, -4.3, -4.47, -4.27, -4.45, -4.29, -4.48, -4.28, -4.46,
  -4.3, -4.48, -4.27, -4.46, -4.31, -4.49, -4.28, -4.47, -4.3, -4.5, -4.27, -4.48, -4.31, -4.46, -4.29, -4.49, -4.3, -4.47, -4.28, -4.5,
  -4.29, -4.48, -4.31, -4.46, -4.28, -4.49, -4.3, -4.47, -4.22, -4.5, -4.29, -4.48, -4.31, -4.46, -4.28, -4.49, -4.3, -4.47, -4.29, -4.5,
  -4.3, -4.48, -4.28, -4.46, -4.31, -4.49, -4.29, -4.47, -4.3, -4.5, -4.28, -4.48, -4.31, -4.46, -4.29, -4.49, -4.3, -4.47, -4.28, -4.5,
  -4.31, -4.48, -4.29, -4.46, -4.3, -4.49, -4.2, -4.47, -4.28, -4.5, -4.31, -4.48, -4.29, -4.46, -4.3, -4.49, -4.28, -4.47, -4.31, -4.5,
  -4.29, -4.48, -4.3, -4.46, -4.28, -4.49, -4.31, -4.47, -4.29, -4.5, -4.3, -4.48, -4.28, -4.46, -4.31, -4.49, -4.29, -4.47, -4.3, -4.5,
  -4.28, -4.48, -4.31, -4.46, -4.29, -4.49, -4.3, -4.47, -4.28, -4.5, -4.31, -4.48, -4.2, -4.46, -4.29, -4.49, -4.3, -4.47, -4.31, -4.5,
  -4.35, -4.45,
];

const RED = '#ff0000';
const BLUE = '#0000ff';
const GREEN = '#008000';
const ORANGE = '#ffa500';
const PURPLE = '#800080';

const LINE_W = 1.8;
const DASH_LINE_W = 1.65;
const DASH = '6.1 2.6';
const FS = 11;

type Series = { label: string; color: string; dashed?: boolean; values: number[] };
type Box = { l: number; r: number; t: number; b: number };

let measureCtx: CanvasRenderingContext2D | null = null;
function textWidth(s: string, size: number): number {
  if (!measureCtx) measureCtx = document.createElement('canvas').getContext('2d');
  if (!measureCtx) return s.length * size * 0.58;
  measureCtx.font = `${size}px "DejaVu Sans"`;
  return measureCtx.measureText(s).width;
}

function expText(e: number): string {
  return e < 0 ? '\u2212' + Math.abs(e) : String(e);
}

type PanelProps = {
  id: string;
  box: Box;
  yLog: [number, number];
  yExps: number[];
  title: string;
  yLabel: string;
  yLabelX: number;
  tickGap: number;
  series: Series[];
};

function Panel({ id, box, yLog, yExps, title, yLabel, yLabelX, tickGap, series }: PanelProps) {
  const x = d3.scaleLinear().domain(X_DOMAIN).range([box.l, box.r]);
  const lo = Math.pow(10, yLog[0]);
  const hi = Math.pow(10, yLog[1]);
  const y = d3.scaleLog().domain([lo, hi]).range([box.b, box.t]);
  const line = d3
    .line<[number, number]>()
    .x((d) => x(d[0]))
    .y((d) => y(d[1]));

  const minor: number[] = [];
  for (let k = Math.floor(yLog[0]); k <= Math.ceil(yLog[1]); k++) {
    for (let m = 2; m <= 9; m++) {
      const v = m * Math.pow(10, k);
      if (v > lo && v < hi) minor.push(v);
    }
  }

  // legend geometry (paddings in font-size units)
  const pad = 0.4 * FS;
  const handle = 2 * FS;
  const hpad = 0.8 * FS;
  const rowH = 16.5;
  const maxW = d3.max(series, (s) => textWidth(s.label, FS)) || 0;
  const lw = pad + handle + hpad + maxW + pad;
  const lh = 19 + (series.length - 1) * rowH;
  const lx = box.r - 5.5 - lw;
  const ly = box.t + 5.5;

  const midY = (box.t + box.b) / 2;

  return (
    <g>
      <defs>
        <clipPath id={`clip-${id}`}>
          <rect x={box.l} y={box.t} width={box.r - box.l} height={box.b - box.t} />
        </clipPath>
      </defs>

      {/* grid */}
      <g>
        {minor.map((v, i) => (
          <line key={`mg${i}`} x1={box.l} x2={box.r} y1={y(v)} y2={y(v)} stroke="#ededed" strokeWidth={0.8} />
        ))}
        {yExps.map((e) => (
          <line key={`yg${e}`} x1={box.l} x2={box.r} y1={y(Math.pow(10, e))} y2={y(Math.pow(10, e))} stroke="#dcdcdc" strokeWidth={0.8} />
        ))}
        {X_TICKS.map((t) => (
          <line key={`xg${t}`} x1={x(t)} x2={x(t)} y1={box.t} y2={box.b} stroke="#e2e2e2" strokeWidth={0.8} />
        ))}
      </g>

      {/* series */}
      <g clipPath={`url(#clip-${id})`}>
        {series.map((s) => {
          const pts: [number, number][] = s.values.map((v, i) => [i * STEP, Math.pow(10, v)]);
          return (
            <path
              key={s.label}
              d={line(pts) || ''}
              fill="none"
              stroke={s.color}
              strokeWidth={s.dashed ? DASH_LINE_W : LINE_W}
              strokeLinejoin="round"
              strokeDasharray={s.dashed ? DASH : undefined}
            />
          );
        })}
      </g>

      {/* frame */}
      <rect x={box.l} y={box.t} width={box.r - box.l} height={box.b - box.t} fill="none" stroke="#4d4d4d" strokeWidth={1} />

      {/* x axis */}
      <g fontSize={FS} fill="#262626" textAnchor="middle">
        {X_TICKS.map((t) => (
          <g key={`xt${t}`}>
            <line x1={x(t)} x2={x(t)} y1={box.b} y2={box.b + 3.8} stroke="#4d4d4d" strokeWidth={0.9} />
            <text x={x(t)} y={box.b + 16.5}>{t}</text>
          </g>
        ))}
        <text x={(box.l + box.r) / 2} y={box.b + 31}>Epoch</text>
      </g>

      {/* y axis */}
      <g fill="#262626">
        {minor.map((v, i) => (
          <line key={`mt${i}`} x1={box.l - 2.2} x2={box.l} y1={y(v)} y2={y(v)} stroke="#4d4d4d" strokeWidth={0.7} />
        ))}
        {yExps.map((e) => {
          const yy = y(Math.pow(10, e));
          return (
            <g key={`yt${e}`}>
              <line x1={box.l - 3.8} x2={box.l} y1={yy} y2={yy} stroke="#4d4d4d" strokeWidth={0.9} />
              <text x={box.l - tickGap} y={yy + 4} fontSize={FS} textAnchor="end">
                10
                <tspan fontSize={7.8} dy={-5}>{expText(e)}</tspan>
              </text>
            </g>
          );
        })}
        <text transform={`translate(${yLabelX},${midY}) rotate(-90)`} fontSize={FS} textAnchor="middle">
          {yLabel}
        </text>
      </g>

      {/* title */}
      <text x={(box.l + box.r) / 2} y={box.t - 6.8} fontSize={16} textAnchor="middle" fill="#111">
        {title}
      </text>

      {/* legend */}
      <g>
        <rect x={lx} y={ly} width={lw} height={lh} rx={2.5} fill="#fff" fillOpacity={0.8} stroke="#cccccc" strokeWidth={1} />
        {series.map((s, i) => {
          const cy = ly + 9 + i * rowH;
          return (
            <g key={`lg${s.label}`}>
              <line
                x1={lx + pad}
                x2={lx + pad + handle}
                y1={cy}
                y2={cy}
                stroke={s.color}
                strokeWidth={2}
                strokeDasharray={s.dashed ? DASH : undefined}
              />
              <text x={lx + pad + handle + hpad} y={cy + 4} fontSize={FS} fill="#262626">
                {s.label}
              </text>
            </g>
          );
        })}
      </g>
    </g>
  );
}

export default function App() {
  const leftL = 62.7;
  const leftR = 623.3;
  const rightL = 686.3;
  const rightR = 1247.3;

  return (
    <svg
      width={W}
      height={H}
      viewBox={`0 0 ${W} ${H}`}
      style={{ position: 'absolute', left: 0, top: 0, background: '#fff' }}
      fontFamily={FONT}
    >
      <rect x={0} y={0} width={W} height={H} fill="#fff" />
      <Panel
        id="train"
        box={{ l: leftL, r: leftR, t: 31.7, b: 431.7 }}
        yLog={[-6, 3.73]}
        yExps={Y_EXP_MAIN}
        title="Euler equation Losses (Training)"
        yLabel="L2-Loss (log)"
        yLabelX={25.4}
        tickGap={2.8}
        series={[
          { label: 'Euler Household (h)', color: RED, values: euHouseTrain },
          { label: 'Euler Fund (f)', color: BLUE, values: euFundTrain },
          { label: 'Euler Bank (b)', color: GREEN, values: euBankTrain },
        ]}
      />
      <Panel
        id="val"
        box={{ l: rightL, r: rightR, t: 31.7, b: 431.7 }}
        yLog={[-6, 3.615]}
        yExps={Y_EXP_MAIN}
        title="Euler equation Losses (Validation)"
        yLabel="L2-Loss (log)"
        yLabelX={646}
        tickGap={6.3}
        series={[
          { label: 'Euler Household', color: RED, dashed: true, values: euHouseVal },
          { label: 'Euler Fund', color: BLUE, dashed: true, values: euFundVal },
          { label: 'Euler Bank', color: GREEN, dashed: true, values: euBankVal },
        ]}
      />
      <Panel
        id="other"
        box={{ l: leftL, r: leftR, t: 498.3, b: 897.7 }}
        yLog={[-6, 3.6]}
        yExps={Y_EXP_MAIN}
        title="Other Losses"
        yLabel="L2-Loss (log)"
        yLabelX={25.4}
        tickGap={2.8}
        series={[
          { label: 'Euler', color: RED, values: eulerLoss },
          { label: 'Symmetry', color: BLUE, values: symmetryLoss },
          { label: 'Portfolio', color: GREEN, values: portfolioLoss },
          { label: 'Ito Consistency', color: ORANGE, values: itoLoss },
          { label: 'Total Validation', color: PURPLE, dashed: true, values: totalVal },
        ]}
      />
      <Panel
        id="rel"
        box={{ l: rightL, r: rightR, t: 497.3, b: 897.3 }}
        yLog={[-7.49, 0.415]}
        yExps={Y_EXP_REL}
        title="Relative Training Losses (Normalized)"
        yLabel="Loss / Initial Loss (log)"
        yLabelX={646}
        tickGap={6.3}
        series={[
          { label: 'Euler Total', color: RED, values: relEuler },
          { label: 'Symmetry', color: BLUE, values: relSymmetry },
          { label: 'Portfolio', color: GREEN, values: relPortfolio },
          { label: 'Ito Consistency', color: ORANGE, values: relIto },
        ]}
      />
    </svg>
  );
}
